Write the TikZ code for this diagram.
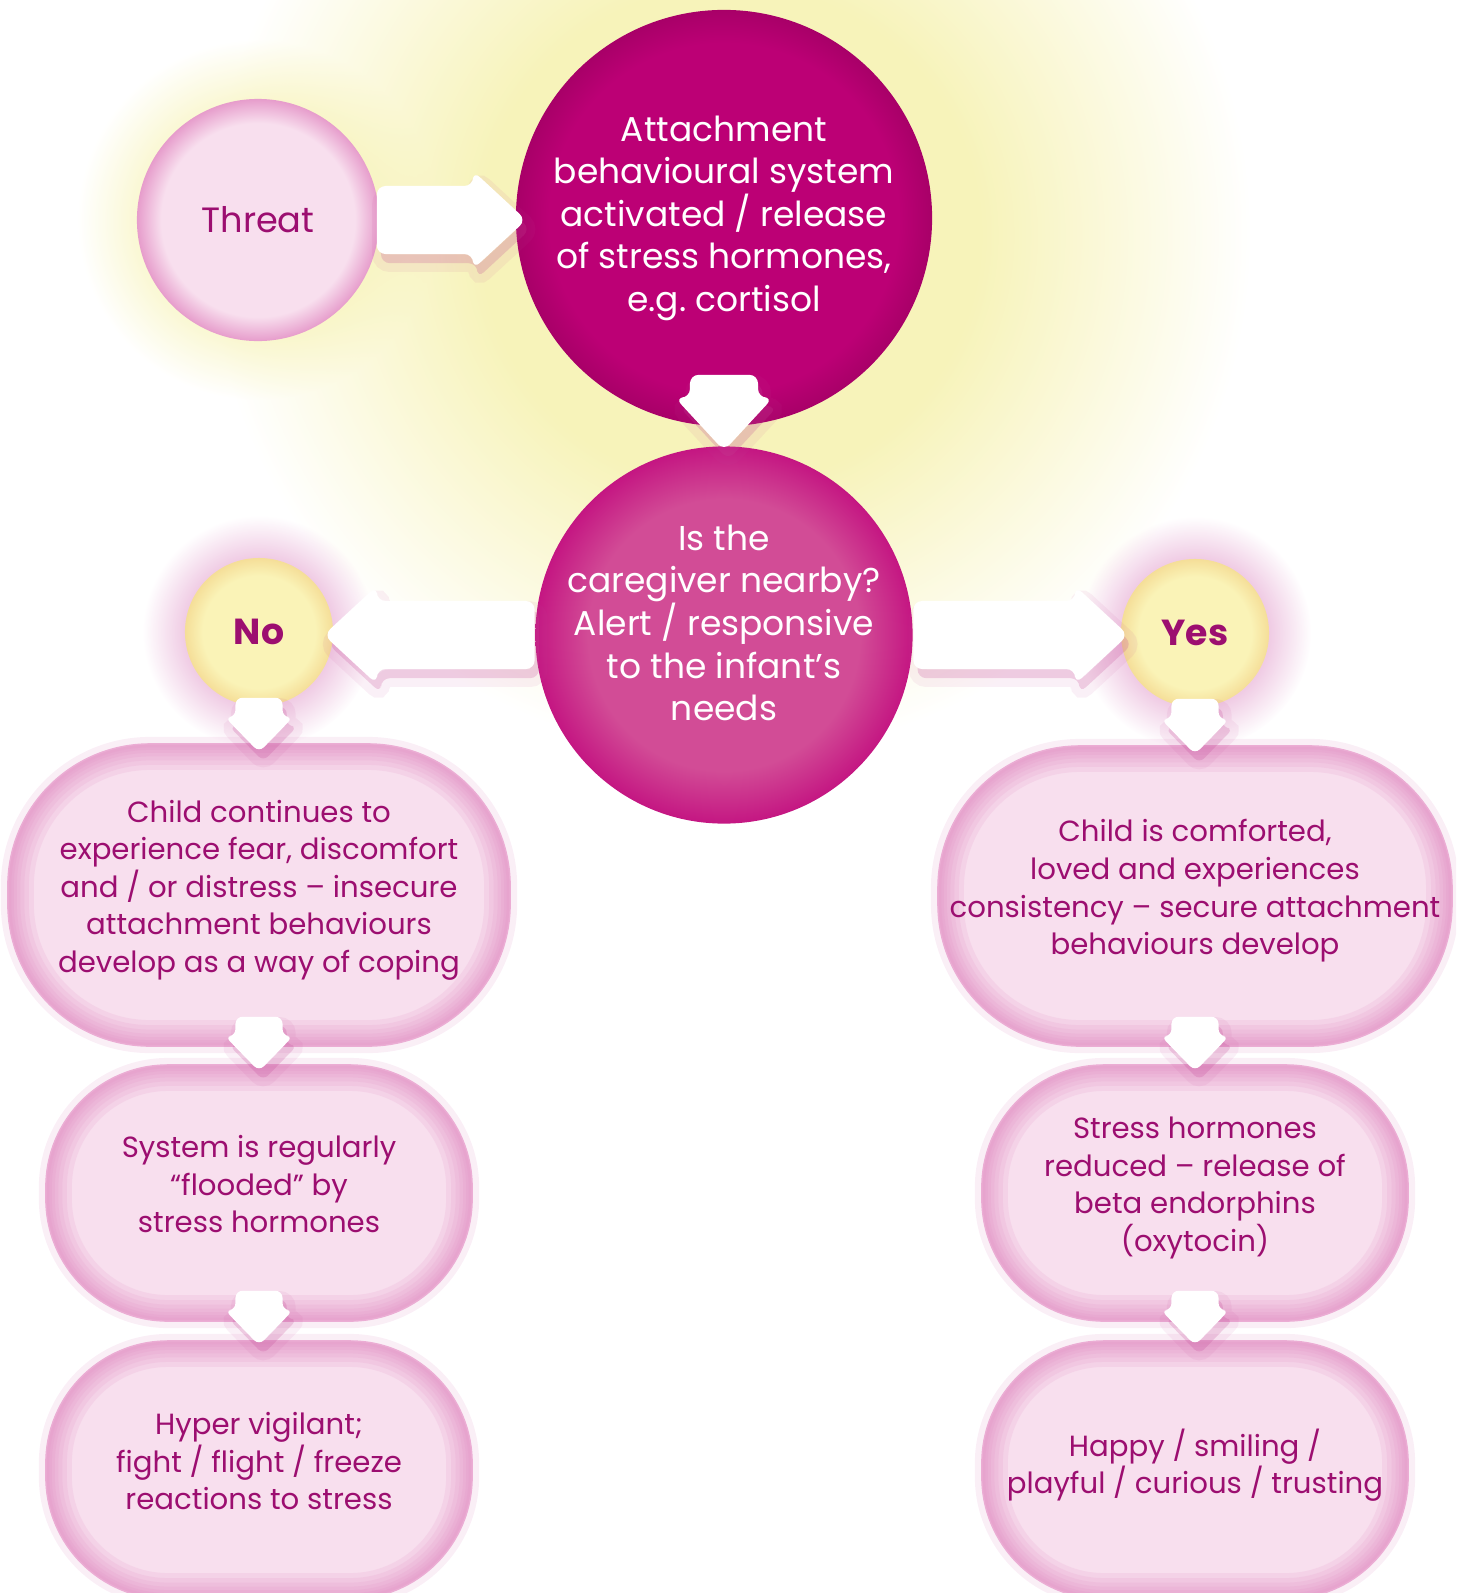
\documentclass[tikz,border=0pt]{standalone}
\usepackage{fontspec}
\setmainfont{Poppins}
\usetikzlibrary{calc,fadings}

\definecolor{magtext}{RGB}{156,14,112}
\definecolor{softfill}{RGB}{248,223,238}
\definecolor{softedge}{RGB}{226,140,195}
\definecolor{glowpink}{RGB}{215,120,185}
\definecolor{attachfill}{RGB}{188,0,117}
\definecolor{attachedge}{RGB}{168,0,104}
\definecolor{carefill}{RGB}{210,76,150}
\definecolor{careedge}{RGB}{196,22,130}
\definecolor{sunfill}{RGB}{250,243,183}
\definecolor{sunedge}{RGB}{245,222,152}
\definecolor{sunglow}{RGB}{247,243,186}
\definecolor{arrowshade}{RGB}{196,70,150}

\pgfdeclareradialshading{pinkshade}{\pgfpoint{0bp}{0bp}}{color(0bp)=(softfill); color(20bp)=(softfill); color(25bp)=(softedge!80!softfill); color(50bp)=(softedge!80!softfill)}
\pgfdeclareradialshading{attachshade}{\pgfpoint{0bp}{0bp}}{color(0bp)=(attachfill); color(21bp)=(attachfill); color(25bp)=(attachedge); color(50bp)=(attachedge)}
\pgfdeclareradialshading{careshade}{\pgfpoint{0bp}{0bp}}{color(0bp)=(carefill); color(18bp)=(carefill); color(25bp)=(careedge); color(50bp)=(careedge)}
\pgfdeclareradialshading{sunshade}{\pgfpoint{0bp}{0bp}}{color(0bp)=(sunfill); color(19bp)=(sunfill); color(25bp)=(sunedge); color(50bp)=(sunedge)}
\pgfdeclareradialshading{glowmask}{\pgfpoint{0bp}{0bp}}{color(0bp)=(white); color(12bp)=(white); color(25bp)=(black); color(50bp)=(black)}
\pgfdeclarefading{glowfade}{\pgfuseshading{glowmask}}

\newcommand\discfont{\fontsize{9.8}{12.1}\selectfont}
\newcommand\boxfont{\fontsize{8.3}{10.7}\selectfont}

\begin{document}
\begin{tikzpicture}
        [x=0.01cm, y=-0.01cm,
        disc/.style={circle, inner sep=0pt, align=center},
        threatnode/.style={disc, shade, shading=pinkshade, text=magtext, font=\fontsize{10}{12}\selectfont},
        attachnode/.style={disc, shade, shading=attachshade, text=white, font=\discfont},
        carenode/.style={disc, inner sep=-0.3cm, text depth=7pt, shade, shading=careshade, text=white, font=\discfont},
        answer/.style={disc, shade, shading=sunshade, text=magtext, minimum size=1.48cm,
            font=\bfseries\fontsize{10.3}{12}\selectfont},
        softbox/.style={rectangle, rounded corners=#1, fill=softfill, draw=softedge!60!softfill, line width=0.4pt,
            text=magtext, align=center, font=\boxfont, text depth=5pt,
            preaction={draw=glowpink, line width=0.14cm, opacity=.12},
            path picture={\foreach \g in {0.52,0.42,0.33,0.25,0.18,0.12,0.07}
                \draw[softedge, line width=\g cm, opacity=.15, rounded corners=#1]
                    (path picture bounding box.south west) rectangle (path picture bounding box.north east);}},
        glow/.style={path fading=glowfade},
        blockshadow/.style={preaction={fill=arrowshade, opacity=.22, transform canvas={shift={(1.2pt,-2.6pt)}}},
            preaction={draw=arrowshade, line width=5pt, opacity=.08, transform canvas={shift={(1.2pt,-2.6pt)}}}},
        bigblock/.style={fill=white, rounded corners=2.5pt, blockshadow, to path={
            ($(\tikztostart)!0.34cm!90:(\tikztotarget)$) --
            ($(\tikztotarget)!0.63cm!-32.7:(\tikztostart)$) --
            ($(\tikztotarget)!0.722cm!-42.75:(\tikztostart)$) --
            (\tikztotarget) --
            ($(\tikztotarget)!0.722cm!42.75:(\tikztostart)$) --
            ($(\tikztotarget)!0.63cm!32.7:(\tikztostart)$) --
            ($(\tikztostart)!0.34cm!-90:(\tikztotarget)$) -- cycle}},
        smallblock/.style={fill=white, rounded corners=2pt, blockshadow, to path={
            ($(\tikztostart)!0.235cm!90:(\tikztotarget)$) --
            ($(\tikztotarget)!0.422cm!-33.9:(\tikztostart)$) --
            ($(\tikztotarget)!0.488cm!-44.2:(\tikztostart)$) --
            (\tikztotarget) --
            ($(\tikztotarget)!0.488cm!44.2:(\tikztostart)$) --
            ($(\tikztotarget)!0.422cm!33.9:(\tikztostart)$) --
            ($(\tikztostart)!0.235cm!-90:(\tikztotarget)$) -- cycle}}]

        \useasboundingbox (0,0) rectangle (1456,1593);
        \clip (0,0) rectangle (1456,1593);

        % glows
        \fill[sunglow, glow] (730,235) circle (520);
        \fill[sunglow, glow] (258,220) circle (180);
        \fill[glowpink, glow, opacity=.55] (259,632) circle (116);
        \fill[glowpink, glow, opacity=.55] (1195,633) circle (116);

        \node[threatnode, minimum size=2.42cm] (threat) at (258,220) {Threat};
        \node[attachnode, minimum size=4.16cm] (attach) at (724,218)
            {Attachment\\behavioural system\\activated / release\\of stress hormones,\\e.g.\ cortisol};
        \node[carenode, minimum size=3.77cm] (care) at (724,635)
            {Is the\\caregiver nearby?\\Alert / responsive\\to the infant’s\\needs};

        \node[answer] (no) at (259,632) {No};
        \node[answer] (yes) at (1195,633) {Yes};

        % no side
        \node[softbox=1.42cm, minimum width=5.02cm, minimum height=3.02cm] (nocope) at (259,895)
            {Child continues to\\experience fear, discomfort\\and / or distress – insecure\\attachment behaviours\\develop as a way of coping};
        \node[softbox=1.22cm, minimum width=4.26cm, minimum height=2.56cm] (noflood) at (259,1193)
            {System is regularly\\“flooded” by\\stress hormones};
        \node[softbox=1.22cm, minimum width=4.26cm, minimum height=2.58cm] (novigil) at (259,1470)
            {Hyper vigilant;\\fight / flight / freeze\\reactions to stress};

        % yes side
        \node[softbox=1.42cm, minimum width=5.01cm, minimum height=3.00cm] (yescomfort) at (1195,896)
            {Child is comforted,\\loved and experiences\\consistency – secure attachment\\behaviours develop};
        \node[softbox=1.22cm, minimum width=4.26cm, minimum height=2.56cm] (yesrelief) at (1195,1193)
            {Stress hormones\\reduced – release of\\beta endorphins\\(oxytocin)};
        \node[softbox=1.22cm, minimum width=4.26cm, minimum height=2.58cm] (yeshappy) at (1195,1470)
            {Happy / smiling /\\playful / curious / trusting};

        % block arrows
        \fill[bigblock] ([xshift=-0.03cm]threat.east) to ([xshift=0.11cm]threat.east -| attach.west);
        \fill[bigblock] ([yshift=0.52cm]attach.south) to ([yshift=-0.05cm]care.north);
        \fill[bigblock] (care.west) to ([xshift=-0.10cm]care.west -| no.east);
        \fill[bigblock] (care.east) to ([xshift=0.08cm]care.east -| yes.west);

        \fill[smallblock] ([yshift=0.09cm]no.south) to ([yshift=-0.09cm]nocope.north);
        \fill[smallblock] ([yshift=0.30cm]nocope.south) to ([yshift=-0.07cm]noflood.north);
        \fill[smallblock] ([yshift=0.31cm]noflood.south) to ([yshift=-0.05cm]novigil.north);
        \fill[smallblock] ([yshift=0.09cm]yes.south) to ([yshift=-0.09cm]yescomfort.north);
        \fill[smallblock] ([yshift=0.30cm]yescomfort.south) to ([yshift=-0.07cm]yesrelief.north);
        \fill[smallblock] ([yshift=0.31cm]yesrelief.south) to ([yshift=-0.05cm]yeshappy.north);

\end{tikzpicture}
\end{document}
